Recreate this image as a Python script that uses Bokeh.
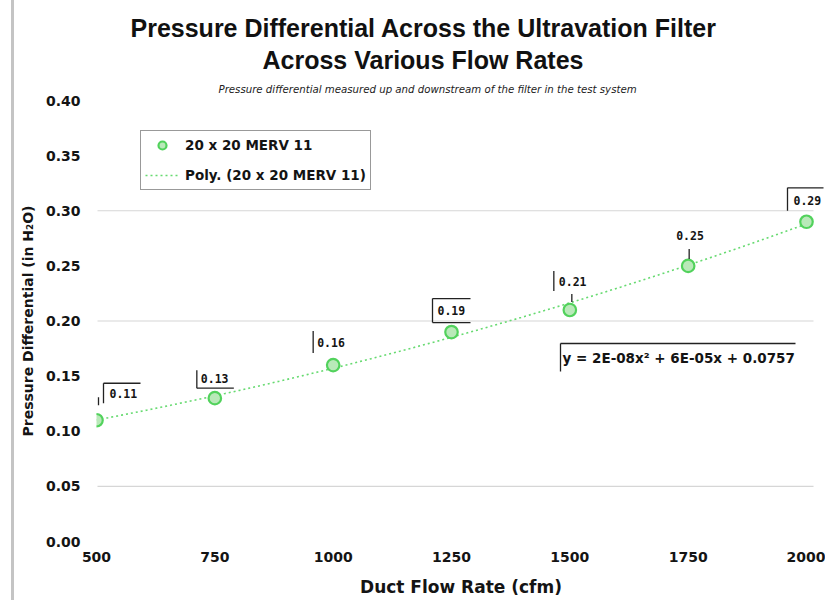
import numpy as np
from bokeh.plotting import figure
from bokeh.layouts import row
from bokeh.models import (Label, Legend, LegendItem, Arrow, ColumnDataSource, Title,
                          FixedTicker, NumeralTickFormatter, Div, Spacer)
from bokeh.embed import file_html
from bokeh.resources import INLINE

# ---------------- data ----------------
flow_cfm = [500, 750, 1000, 1250, 1500, 1750, 2000]
pressure_inh2o = [0.11, 0.13, 0.16, 0.19, 0.21, 0.25, 0.29]
x_ticks = [500, 750, 1000, 1250, 1500, 1750, 2000]
y_ticks = [0.00, 0.05, 0.10, 0.15, 0.20, 0.25, 0.30, 0.35, 0.40]
grid_ticks = [0.05, 0.20, 0.30]
series_name = "20 x 20 MERV 11"
trend_name = "Poly. (20 x 20 MERV 11)"
equation_text = "y = 2E-08x\u00b2 + 6E-05x + 0.0757"
title_line1 = "Pressure Differential Across the Ultravation Filter"
title_line2 = "Across Various Flow Rates"
subtitle = "Pressure differential measured up and downstream of the filter in the test system"
x_label = "Duct Flow Rate (cfm)"
y_label = "Pressure Differential (in H\u2082O)"

# ---------------- layout / style ----------------
PAGE_W, PAGE_H = 825, 600
BAR_GAP, BAR_W = 11, 3
FIG_LEFT_PX = BAR_GAP + BAR_W
FRAME_LEFT_PX, FRAME_TOP_PX, FRAME_BOTTOM_PX = 96, 100, 541
FIG_W = PAGE_W - FIG_LEFT_PX
B_L = FRAME_LEFT_PX - FIG_LEFT_PX
B_T = FRAME_TOP_PX
B_B = PAGE_H - FRAME_BOTTOM_PX
FRAME_W = FIG_W - B_L
FRAME_H = FRAME_BOTTOM_PX - FRAME_TOP_PX
X0, X2000_PX = 500, 806          # 500 at frame left, 2000 at px 806
DXP = (2000 - X0) / (X2000_PX - FRAME_LEFT_PX)
Y0, Y1 = 0.0, 0.40
DYP = (Y1 - Y0) / FRAME_H
X1 = X0 + FRAME_W * DXP

def px_to_data(px, py):
    return X0 + (px - FRAME_LEFT_PX) * DXP, Y0 + (FRAME_BOTTOM_PX - py) * DYP

SANS = "'DejaVu Sans', sans-serif"
TITLE_FONT = "'Liberation Sans', Arial, sans-serif"
MONO = "'DejaVu Sans Mono', monospace"
GREEN_LINE = "#52d25c"
GREEN_FILL = "#b9e9b9"
TREND_COLOR = "#66da70"
TXT = "#141414"

p = figure(width=FIG_W, height=PAGE_H, x_range=(X0, X1), y_range=(Y0, Y1),
           min_border_left=B_L, min_border_right=0,
           min_border_top=B_T, min_border_bottom=B_B,
           output_backend="svg", toolbar_location=None)
p.outline_line_color = None
p.background_fill_color = "white"
p.border_fill_color = "white"

# titles (first added sits closest to the plot)
p.add_layout(Title(text=subtitle, align="left", offset=122, standoff=12,
                   text_font=SANS, text_font_style="italic", text_font_size="10.2px",
                   text_color="#222222"), "above")
p.add_layout(Title(text=title_line2, align="left", offset=166, standoff=4,
                   text_font=TITLE_FONT, text_font_style="bold", text_font_size="25px",
                   text_color="#111111"), "above")
p.add_layout(Title(text=title_line1, align="left", offset=34, standoff=0,
                   text_font=TITLE_FONT, text_font_style="bold", text_font_size="25px",
                   text_color="#111111"), "above")

# axes
p.xaxis.ticker = FixedTicker(ticks=x_ticks)
p.yaxis.ticker = FixedTicker(ticks=y_ticks)
p.yaxis.formatter = NumeralTickFormatter(format="0.00")
for ax in (p.xaxis[0], p.yaxis[0]):
    ax.axis_line_color = None
    ax.major_tick_line_color = None
    ax.minor_tick_line_color = None
    ax.major_tick_out = 0
    ax.major_tick_in = 0
    ax.minor_tick_out = 0
    ax.minor_tick_in = 0
    ax.major_label_text_font = SANS
    ax.major_label_text_font_style = "bold"
    ax.major_label_text_font_size = "14px"
    ax.major_label_text_color = TXT
    ax.axis_label_text_font = SANS
    ax.axis_label_text_font_style = "bold"
    ax.axis_label_text_color = TXT
p.xaxis.major_label_standoff = 10
p.yaxis.major_label_standoff = 16
p.xaxis.axis_label = x_label
p.xaxis.axis_label_text_font_size = "17px"
p.xaxis.axis_label_standoff = 12
p.yaxis.axis_label = y_label
p.yaxis.axis_label_text_font_size = "14px"
p.yaxis.axis_label_standoff = 7

p.xgrid.grid_line_color = None
p.ygrid.grid_line_color = None
gx0, _ = px_to_data(97, 0)
gx1, _ = px_to_data(813, 0)
p.segment(x0=[gx0] * len(grid_ticks), x1=[gx1] * len(grid_ticks), y0=grid_ticks, y1=grid_ticks,
          line_color="#d6d6d6", line_width=1.2)

# trendline from least-squares quadratic fit of the data
coef = np.polyfit(flow_cfm, pressure_inh2o, 2)
xs = np.linspace(500, 2000, 200)
trend = p.line(xs, np.polyval(coef, xs), line_color=TREND_COLOR, line_width=1.6,
               line_dash="2 3")

src = ColumnDataSource(dict(x=flow_cfm, y=pressure_inh2o))
pts = p.scatter("x", "y", source=src, size=12.5, marker="circle",
                fill_color=GREEN_FILL, line_color=GREEN_LINE, line_width=2.2)

# data labels (pixel offsets from each point; label box has 3px padding)
label_offsets = [(10, 27), (-17, 20), (-19, 23), (-17, 21.5), (-14, 28), (-15, 30), (-16, 21)]
callout_lines = [
    [(7, 37, 7, 17), (7, 37, 44, 37), (2, 23, 2, 15)],
    [(-18, 28, -18, 10), (-18, 10, 19, 10)],
    [(-20, 34, -20, 12)],
    [(-19, 33.5, -19, 9.5), (-19, 33.5, 19, 33.5), (-19, 9.5, 19, 9.5)],
    [(-16, 39, -16, 19), (2, 16, 2, 8)],
    [(1, 17, 1, 7)],
    [(-19, 34, -19, 11), (-19, 34, 17, 34)],
]
seg = dict(xs=[], ys=[], xe=[], ye=[])
for xv, yv, (dx, dy), lines in zip(flow_cfm, pressure_inh2o, label_offsets, callout_lines):
    for (ax_, ay_, bx_, by_) in lines:
        seg["xs"].append(xv + ax_ * DXP)
        seg["ys"].append(yv + ay_ * DYP)
        seg["xe"].append(xv + bx_ * DXP)
        seg["ye"].append(yv + by_ * DYP)
    p.add_layout(Label(x=xv, y=yv, x_offset=dx, y_offset=dy, text=f"{yv:.2f}",
                       text_align="left", text_baseline="middle",
                       text_font=MONO, text_font_style="bold",
                       text_font_size="11.5px", text_color=TXT,
                       background_fill_color="white", padding=3))

# equation label
eqx, eqy = px_to_data(562, 357)
p.add_layout(Label(x=eqx, y=eqy, text=equation_text, text_align="left",
                   text_baseline="middle", text_font=SANS, text_font_style="bold",
                   text_font_size="13.5px", text_color=TXT))
e_l, e_t = px_to_data(560, 343)
e_r, e_b = px_to_data(795, 371)
seg["xs"] += [e_l, e_l]
seg["ys"] += [e_t, e_t]
seg["xe"] += [e_l, e_r]
seg["ye"] += [e_b, e_t]

p.add_layout(Arrow(end=None, source=ColumnDataSource(seg), x_start="xs", y_start="ys",
                   x_end="xe", y_end="ye", line_color="#222222", line_width=1.3))

# legend
legend = Legend(items=[LegendItem(label=series_name, renderers=[pts]),
                       LegendItem(label=trend_name, renderers=[trend])],
                location=(44, 351), padding=4, spacing=10,
                glyph_width=34, glyph_height=20, label_height=20, label_standoff=6,
                label_text_font=SANS, label_text_font_style="bold",
                label_text_font_size="13.5px", label_text_color=TXT,
                border_line_color="#333333", border_line_width=1.5,
                background_fill_color="white", background_fill_alpha=1.0)
p.add_layout(legend)

gap = Spacer(width=BAR_GAP, height=PAGE_H, margin=0)
bar = Div(text="", width=BAR_W, height=PAGE_H, margin=0,
          styles={"background-color": "#c4c4c4"})
layout = row(gap, bar, p, spacing=0)

open("out.html", "w").write(file_html(layout, INLINE))
